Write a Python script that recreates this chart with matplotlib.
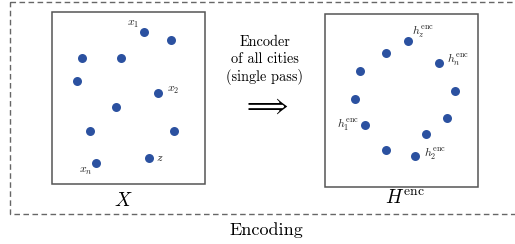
import matplotlib
matplotlib.use("Agg")
import matplotlib.pyplot as plt
from matplotlib.patches import Rectangle

plt.rcParams['mathtext.fontset'] = 'cm'
plt.rcParams['font.family'] = 'cmr10'
plt.rcParams['axes.formatter.use_mathtext'] = True

# city positions (pixel space of the diagram)
cities_x = [144, 171, 82, 121, 77, 158, 116, 90, 174, 149, 96]
cities_y = [32, 40, 58, 58, 81, 93, 107, 131, 131, 158, 163]
city_labels = [r'$x_1$', r'$x_2$', r'$z$', r'$x_n$']
city_label_x = [133, 173, 160, 86]
city_label_y = [24, 90, 158, 171]

enc_x = [408, 386, 439, 360, 455, 355, 447, 365, 426, 386, 415]
enc_y = [41, 53, 63, 71, 91, 99, 118, 125, 134, 150, 156]
enc_labels = [r'$h_z^{\mathrm{enc}}$', r'$h_n^{\mathrm{enc}}$',
              r'$h_1^{\mathrm{enc}}$', r'$h_2^{\mathrm{enc}}$']
enc_label_x = [423, 458, 348, 435]
enc_label_y = [32, 60, 125, 154]

dot_color = '#2b51a0'
edge_gray = '#555555'

fig = plt.figure(figsize=(5.15, 2.44), dpi=100)
ax = fig.add_axes([0, 0, 1, 1])
ax.set_xlim(0, 515)
ax.set_ylim(244, 0)
ax.axis('off')

# outer dashed frame (right side runs off the picture)
ax.add_patch(Rectangle((9.5, 1.5), 520, 212, fill=False, ls=(0, (4, 2.5)),
                       lw=1.0, ec='#666666'))

# the two panels
ax.add_patch(Rectangle((52, 12), 153, 171.5, fill=False, lw=1.1, ec=edge_gray))
ax.add_patch(Rectangle((325, 14), 152.5, 172.5, fill=False, lw=1.1, ec=edge_gray))

ax.scatter(cities_x, cities_y, s=42, color=dot_color, zorder=3, lw=0)
ax.scatter(enc_x, enc_y, s=42, color=dot_color, zorder=3, lw=0)

for t, x, y in zip(city_labels, city_label_x, city_label_y):
    ax.text(x, y, t, fontsize=8.5, ha='center', va='center', color='#222222')
for t, x, y in zip(enc_labels, enc_label_x, enc_label_y):
    ax.text(x, y, t, fontsize=8.5, ha='center', va='center', color='#222222')

ax.text(123, 201, r'$X$', fontsize=14, ha='center', va='center')
ax.text(405, 198, r'$H^{\mathrm{enc}}$', fontsize=14, ha='center', va='center')

ax.text(265, 60, 'Encoder\nof all cities\n(single pass)', fontsize=10.3,
        ha='center', va='center', linespacing=1.25)
ax.text(265, 106, r'$\Longrightarrow$', fontsize=19, ha='center', va='center')

ax.text(266, 230, 'Encoding', fontsize=13, ha='center', va='center')

fig.savefig('out.png', dpi=100)
